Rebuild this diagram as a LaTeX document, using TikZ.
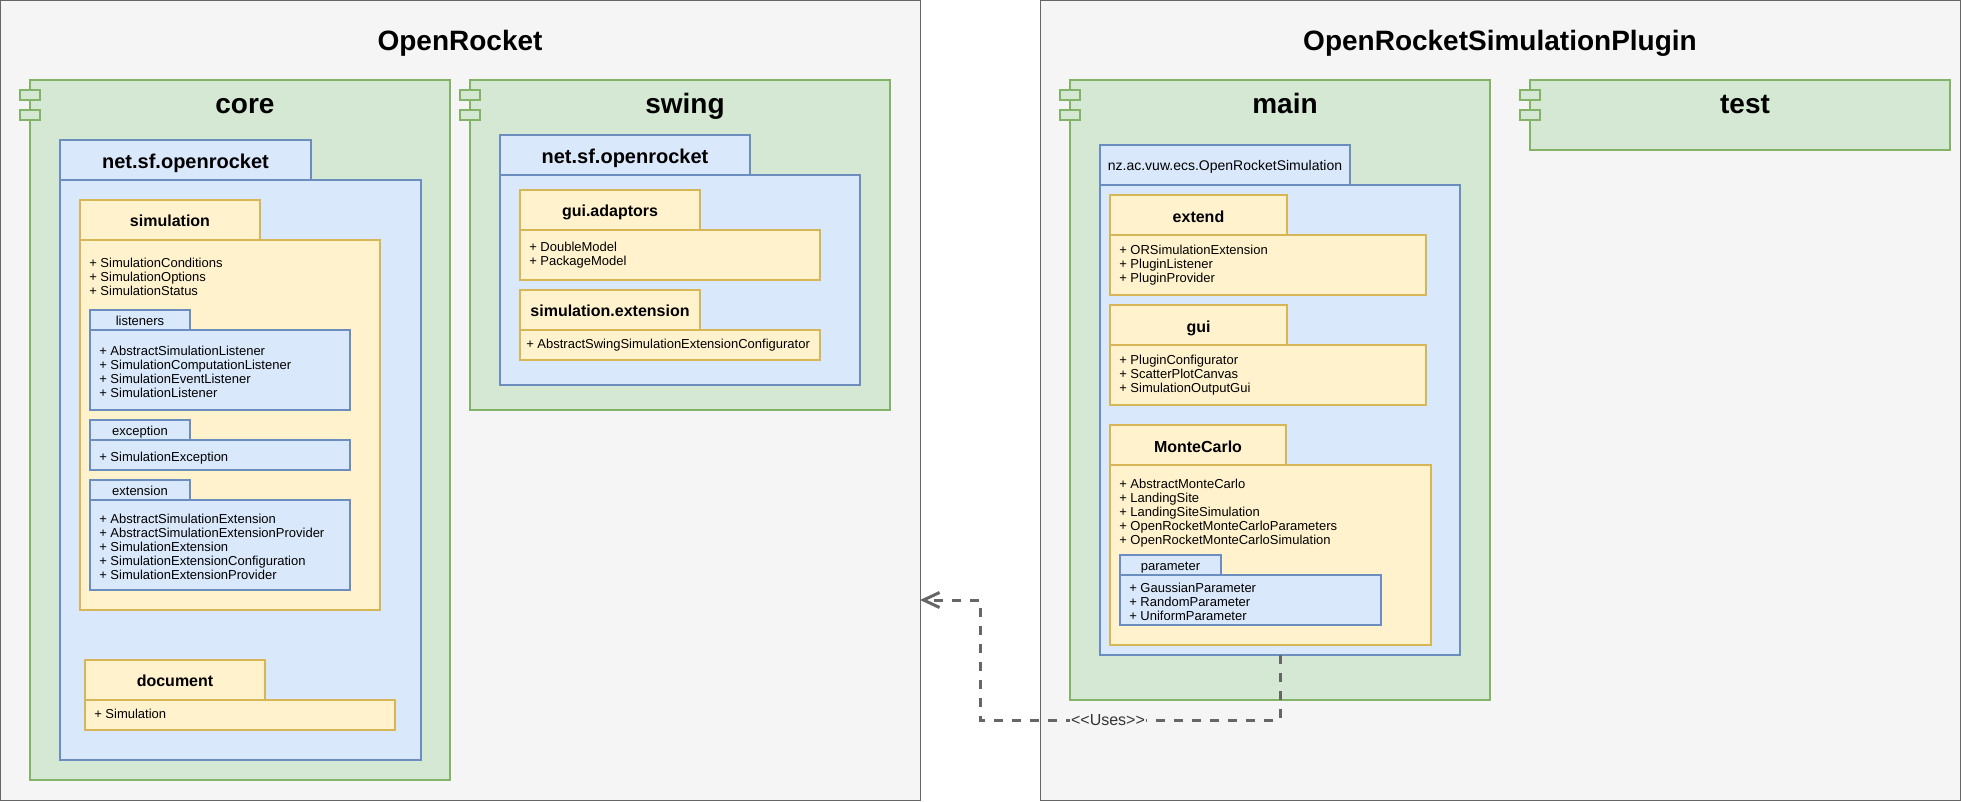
\documentclass[tikz,border=0pt]{standalone}
\usepackage{fontspec}
\setmainfont{Liberation Sans}
\usetikzlibrary{arrows.meta}
\definecolor{outF}{HTML}{F5F5F5}
\definecolor{outS}{HTML}{666666}
\definecolor{grnF}{HTML}{D5E8D4}
\definecolor{grnS}{HTML}{82B366}
\definecolor{bluF}{HTML}{DAE8FC}
\definecolor{bluS}{HTML}{6C8EBF}
\definecolor{ylwF}{HTML}{FFF2CC}
\definecolor{ylwS}{HTML}{D6B656}
\definecolor{lnk}{HTML}{666666}
\definecolor{lbltxt}{HTML}{333333}
% box by corners: style, name, x1, y1, x2, y2 (pixel units, y downwards)
\newcommand\bx[6]{\node[#1, anchor=north west, inner sep=0pt, outer sep=0pt,
  minimum width={((#5)-(#3))*0.75pt}, minimum height={((#6)-(#4))*0.75pt}] (#2) at (#3,#4) {};}
% component: name, x1, y1, x2, y2, title
\newcommand\comp[6]{%
  \bx{grn}{#1}{#2}{#3}{#4}{#5}
  \bx{grn}{#1-t1}{#2-10}{#3+10}{#2+10}{#3+20}
  \bx{grn}{#1-t2}{#2-10}{#3+30}{#2+10}{#3+40}
  \node[ctitle] (#1-lbl) at ({(#2+#4)/2+5}, #3+33.5) {#6};}
% list of items: name, x, centre y of first line, items
\newcommand\items[4]{\foreach \t [count=\i from 0] in {#4}{%
  \node[itm] (#1-\i) at (#2, {#3+4+14*\i}) {\t};}}
\begin{document}
\begin{tikzpicture}[x=0.75pt, y=-0.75pt,
  outer/.style={draw=outS, fill=outF, line width=0.75pt},
  grn/.style={draw=grnS, fill=grnF, line width=0.9pt},
  blu/.style={draw=bluS, fill=bluF, line width=0.9pt},
  ylw/.style={draw=ylwS, fill=ylwF, line width=0.9pt},
  ttl/.style={anchor=base, inner sep=0pt, font=\fontsize{21}{25}\selectfont\bfseries},
  ctitle/.style={anchor=base, inner sep=0pt, font=\fontsize{21}{25}\selectfont\bfseries},
  pkgbig/.style={anchor=base, inner sep=0pt, font=\fontsize{15}{18}\selectfont\bfseries},
  pkgb/.style={anchor=base, inner sep=0pt, font=\fontsize{12}{14}\selectfont\bfseries},
  nzlbl/.style={anchor=base, inner sep=0pt, font=\fontsize{10.5}{12}\selectfont},
  sublbl/.style={anchor=base, inner sep=0pt, font=\fontsize{9.75}{11}\selectfont},
  itm/.style={anchor=base west, inner sep=0pt, font=\fontsize{9.75}{11}\selectfont},
  usesln/.style={draw=lnk, line width=2.25pt, dash pattern=on 6.75pt off 6.75pt,
    -{Straight Barb[length=12pt, width=11.25pt]}},
  useslbl/.style={anchor=base, inner sep=0.6pt, fill=outF, text=lbltxt, font=\fontsize{12}{14}\selectfont}]
\useasboundingbox[fill=white] (0,0) rectangle (1961,801);
% outer frames
\bx{outer}{orkt}{0.5}{0.5}{920}{800}
\bx{outer}{plug}{1040}{0.5}{1960.5}{800}
\node[ttl] (orkt-lbl) at (460,50) {OpenRocket};
\node[ttl] (plug-lbl) at (1500,50) {OpenRocketSimulationPlugin};
% components
\comp{core}{30}{80}{450}{780}{core}
\comp{swing}{470}{80}{890}{410}{swing}
\comp{main}{1070}{80}{1490}{700}{main}
\comp{test}{1530}{80}{1950}{150}{test}
% ---- core
\bx{blu}{corepkgT}{60}{140}{311}{180}
\bx{blu}{corepkg}{60}{180}{421}{760}
\node[pkgbig] (corepkg-lbl) at (185.5,168.3) {net.sf.openrocket};
\bx{ylw}{simT}{80}{200}{260}{240}
\bx{ylw}{sim}{80}{240}{380}{610}
\node[pkgb] (sim-lbl) at (170,226) {simulation};
\items{simi}{89}{263.3}{+ SimulationConditions, + SimulationOptions, + SimulationStatus}
\bx{blu}{lisT}{90}{310}{190}{330}
\bx{blu}{lis}{90}{330}{350}{410}
\node[sublbl] (lis-lbl) at (140,325) {listeners};
\items{lisi}{99}{351.6}{+ AbstractSimulationListener, + SimulationComputationListener, + SimulationEventListener, + SimulationListener}
\bx{blu}{excT}{90}{420}{190}{440}
\bx{blu}{exc}{90}{440}{350}{470}
\node[sublbl] (exc-lbl) at (140,435.3) {exception};
\items{exci}{99}{457.7}{+ SimulationException}
\bx{blu}{extT}{90}{480}{190}{500}
\bx{blu}{ext}{90}{500}{350}{590}
\node[sublbl] (ext-lbl) at (140,495.3) {extension};
\items{exti}{99}{519.7}{+ AbstractSimulationExtension, + AbstractSimulationExtensionProvider, + SimulationExtension, + SimulationExtensionConfiguration, + SimulationExtensionProvider}
\bx{ylw}{docT}{85}{660}{265}{700}
\bx{ylw}{doc}{85}{700}{395}{730}
\node[pkgb] (doc-lbl) at (175,686.7) {document};
\items{doci}{94}{714.7}{+ Simulation}
% ---- swing
\bx{blu}{swpkgT}{500}{135}{750}{175}
\bx{blu}{swpkg}{500}{175}{860}{385}
\node[pkgbig] (swpkg-lbl) at (625,163.3) {net.sf.openrocket};
\bx{ylw}{guaT}{520}{190}{700}{230}
\bx{ylw}{gua}{520}{230}{820}{280}
\node[pkgb] (gua-lbl) at (610,216) {gui.adaptors};
\items{guai}{529}{247.7}{+ DoubleModel, + PackageModel}
\bx{ylw}{sexT}{520}{290}{700}{330}
\bx{ylw}{sex}{520}{330}{820}{360}
\node[pkgb] (sex-lbl) at (610,316) {simulation.extension};
\items{sexi}{526}{344}{+ AbstractSwingSimulationExtensionConfigurator}
% ---- main
\bx{blu}{nzbT}{1100}{145}{1350}{185}
\bx{blu}{nzb}{1100}{185}{1460}{655}
\node[nzlbl] (nzb-lbl) at (1225,170) {nz.ac.vuw.ecs.OpenRocketSimulation};
\bx{ylw}{exdT}{1110}{195}{1287}{235}
\bx{ylw}{exd}{1110}{235}{1426}{295}
\node[pkgb] (exd-lbl) at (1198.5,222) {extend};
\items{exdi}{1119}{250.7}{+ ORSimulationExtension, + PluginListener, + PluginProvider}
\bx{ylw}{guiT}{1110}{305}{1287}{345}
\bx{ylw}{gui}{1110}{345}{1426}{405}
\node[pkgb] (gui-lbl) at (1198.5,332) {gui};
\items{guii}{1119}{360.7}{+ PluginConfigurator, + ScatterPlotCanvas, + SimulationOutputGui}
\bx{ylw}{mcT}{1110}{425}{1286}{465}
\bx{ylw}{mc}{1110}{465}{1431}{645}
\node[pkgb] (mc-lbl) at (1198,452) {MonteCarlo};
\items{mci}{1119}{484.7}{+ AbstractMonteCarlo, + LandingSite, + LandingSiteSimulation, + OpenRocketMonteCarloParameters, + OpenRocketMonteCarloSimulation}
\bx{blu}{parT}{1120}{555}{1221}{575}
\bx{blu}{par}{1120}{575}{1381}{625}
\node[sublbl] (par-lbl) at (1170.5,570) {parameter};
\items{pari}{1129}{588.7}{+ GaussianParameter, + RandomParameter, + UniformParameter}
% ---- dependency
\coordinate (c1) at (980,720);
\coordinate (c2) at (980,600);
\draw[usesln] (nzb.south) |- (c1) -- (c2) -- (orkt.east |- c2);
\node[useslbl] (uses) at (1108,725.7) {<\kern0pt<Uses>\kern0pt>};
\end{tikzpicture}
\end{document}
